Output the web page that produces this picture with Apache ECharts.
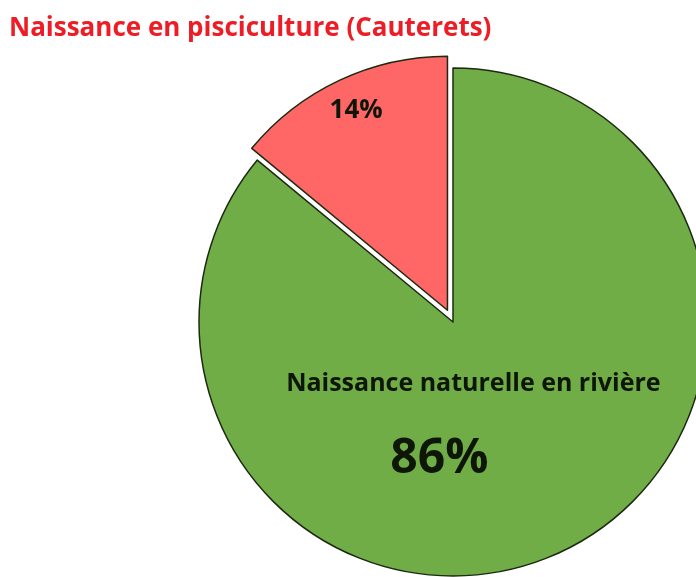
<!DOCTYPE html>
<html>
<head>
<meta charset="utf-8">
<script src="https://cdn.jsdelivr.net/npm/echarts@6/dist/echarts.min.js"></script>
<style>
  html, body { margin: 0; padding: 0; background: #fff; }
  #chart { width: 696px; height: 577px; }
</style>
</head>
<body>
<div id="chart"></div>
<script>
// origine des poissons
const categories = ['Naissance naturelle en rivière', 'Naissance en pisciculture (Cauterets)'];
const values = [86, 14];
const colors = ['#70ad47', '#ff6666'];

let chart = echarts.init(document.getElementById('chart'));

let option = {
  title: {
    text: categories[1],
    left: 4,
    top: 11,
    textStyle: { color: '#ee1c25', fontSize: 26, fontWeight: 'bold', fontFamily: 'Open Sans' }
  },
  series: [{
    type: 'pie',
    center: [453, 322],
    radius: 254,
    startAngle: 90,
    clockwise: true,
    selectedMode: 'single',
    selectedOffset: 13,
    silent: true,
    animation: false,
    itemStyle: { borderColor: '#1d2a12', borderWidth: 1.5 },
    label: {
      position: 'inside',
      color: '#0e1608',
      fontFamily: 'Open Sans',
      fontWeight: 'bold'
    },
    labelLayout: function (p) {
      // décale les étiquettes comme sur l'original
      if (p.dataIndex === 0) return { dx: -35, dy: -18 };
      return { dx: -36, dy: -82 };
    },
    data: [
      {
        name: categories[0], value: values[0],
        itemStyle: { color: colors[0] },
        label: {
          formatter: '{a|{b}}\n{b|{d}%}',
          rich: {
            a: { fontSize: 25, fontWeight: 'bold', fontFamily: 'Open Sans', color: '#0e1608', lineHeight: 75 },
            b: { fontSize: 48, fontWeight: 'bold', fontFamily: 'Open Sans', color: '#0e1608', lineHeight: 75, padding: [0, 68, 0, 0] }
          }
        }
      },
      {
        name: categories[1], value: values[1], selected: true,
        itemStyle: { color: colors[1] },
        label: { formatter: '{d}%', fontSize: 26 }
      }
    ]
  }]
};
chart.setOption(option);
</script>
</body>
</html>
